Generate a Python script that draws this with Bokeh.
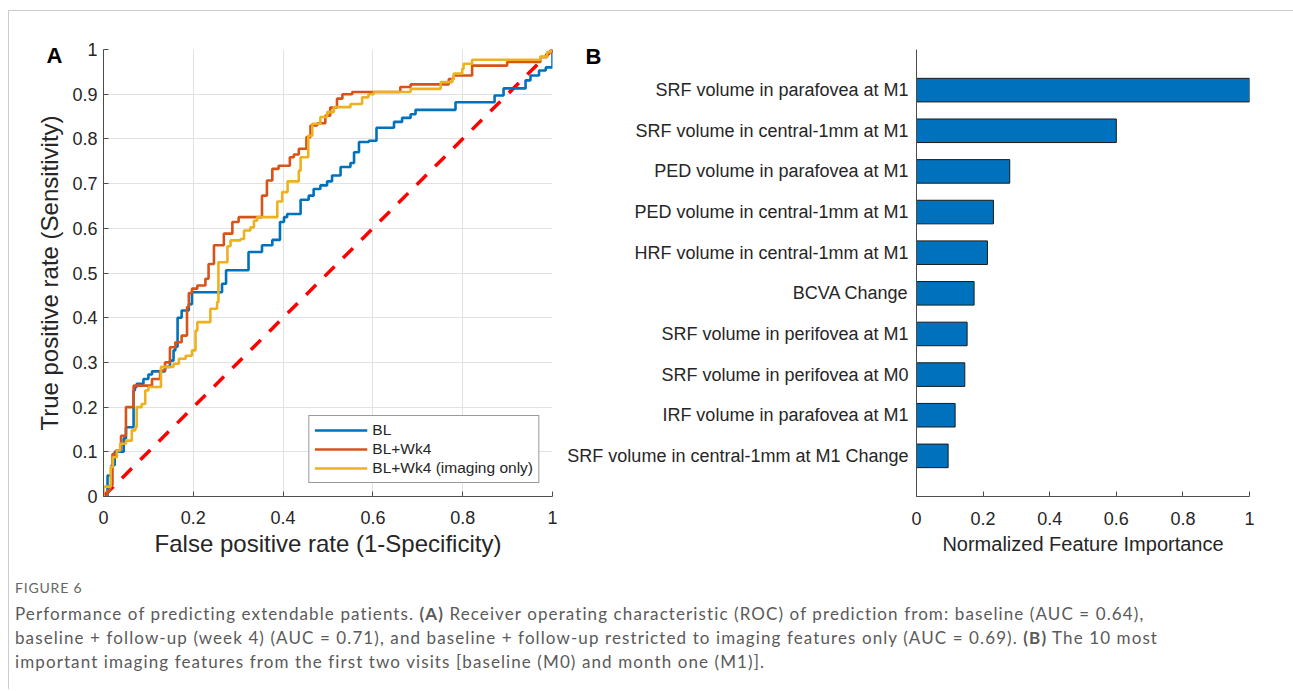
from bokeh.plotting import figure
from bokeh.models import (ColumnDataSource, Legend, LegendItem, Title, FixedTicker,
                          CustomJSTickFormatter, Range1d, FactorRange, Div)
from bokeh.layouts import row, column
from bokeh.embed import file_html
from bokeh.resources import INLINE

# ---------------- data ----------------
# ROC curves (breakpoints: at FPR x the curve rises to TPR y)
bl_fpr = [0, 0.009, 0.018, 0.025, 0.045, 0.05, 0.067, 0.07, 0.074, 0.089, 0.1, 0.108, 0.137, 0.148,
          0.156, 0.16, 0.165, 0.174, 0.19, 0.197, 0.264, 0.273, 0.323, 0.353, 0.376, 0.393, 0.402,
          0.409, 0.439, 0.457, 0.468, 0.483, 0.498, 0.509, 0.528, 0.55, 0.558, 0.569, 0.591, 0.608,
          0.647, 0.665, 0.684, 0.695, 0.784, 0.871, 0.891, 0.94, 0.951, 0.97, 0.985, 1.0]
bl_tpr = [0, 0.047, 0.07, 0.1, 0.13, 0.155, 0.237, 0.245, 0.252, 0.263, 0.273, 0.28, 0.29, 0.304,
          0.327, 0.335, 0.40, 0.416, 0.43, 0.457, 0.476, 0.506, 0.547, 0.562, 0.574, 0.614, 0.625,
          0.632, 0.664, 0.673, 0.688, 0.696, 0.705, 0.718, 0.737, 0.746, 0.77, 0.793, 0.796, 0.825,
          0.838, 0.847, 0.855, 0.865, 0.882, 0.897, 0.913, 0.931, 0.942, 0.953, 0.96, 1.0]

wk_fpr = [0, 0.008, 0.015, 0.02, 0.028, 0.039, 0.05, 0.067, 0.108, 0.126, 0.137, 0.148, 0.16, 0.174,
          0.186, 0.19, 0.197, 0.209, 0.227, 0.234, 0.246, 0.268, 0.287, 0.301, 0.353, 0.364, 0.376,
          0.39, 0.415, 0.424, 0.435, 0.452, 0.461, 0.476, 0.494, 0.505, 0.52, 0.532, 0.554, 0.661,
          0.684, 0.769, 0.78, 0.821, 0.899, 0.973, 0.988, 1.0]
wk_tpr = [0, 0.013, 0.025, 0.095, 0.103, 0.136, 0.2, 0.248, 0.263, 0.282, 0.3, 0.334, 0.345, 0.36,
          0.424, 0.455, 0.465, 0.472, 0.487, 0.52, 0.562, 0.588, 0.614, 0.625, 0.673, 0.707, 0.733,
          0.74, 0.759, 0.765, 0.778, 0.804, 0.83, 0.835, 0.852, 0.87, 0.89, 0.9, 0.905, 0.916,
          0.922, 0.934, 0.942, 0.964, 0.972, 0.983, 0.994, 1.0]

im_fpr = [0, 0.0, 0.016, 0.021, 0.03, 0.037, 0.05, 0.063, 0.071, 0.074, 0.085, 0.093, 0.1, 0.128,
          0.156, 0.168, 0.183, 0.197, 0.205, 0.209, 0.238, 0.253, 0.256, 0.276, 0.283, 0.305, 0.313,
          0.327, 0.335, 0.342, 0.387, 0.398, 0.41, 0.435, 0.439, 0.456, 0.465, 0.483, 0.498, 0.513,
          0.55, 0.576, 0.59, 0.602, 0.684, 0.751, 0.777, 0.78, 0.799, 0.802, 0.821, 0.973, 0.988, 0.996]
im_tpr = [0, 0.022, 0.066, 0.088, 0.103, 0.118, 0.125, 0.148, 0.155, 0.2, 0.207, 0.237, 0.245, 0.29,
          0.297, 0.308, 0.315, 0.327, 0.371, 0.39, 0.42, 0.435, 0.524, 0.56, 0.573, 0.576, 0.595,
          0.602, 0.617, 0.625, 0.66, 0.681, 0.705, 0.729, 0.759, 0.807, 0.834, 0.849, 0.86, 0.871,
          0.878, 0.893, 0.9, 0.905, 0.912, 0.927, 0.934, 0.946, 0.957, 0.968, 0.977, 0.984, 0.994, 1.0]

chance_x = [0, 1]
chance_y = [0, 1]

series_labels = ["BL", "BL+Wk4", "BL+Wk4 (imaging only)"]
roc_ticks_x = [0, 0.2, 0.4, 0.6, 0.8, 1]
roc_ticks_y = [0, 0.1, 0.2, 0.3, 0.4, 0.5, 0.6, 0.7, 0.8, 0.9, 1]

# Feature importance
features = ["SRF volume in parafovea at M1", "SRF volume in central-1mm at M1",
            "PED volume in parafovea at M1", "PED volume in central-1mm at M1",
            "HRF volume in central-1mm at M1", "BCVA Change",
            "SRF volume in perifovea at M1", "SRF volume in perifovea at M0",
            "IRF volume in parafovea at M1", "SRF volume in central-1mm at M1 Change"]
importance = [1.0, 0.6, 0.28, 0.231, 0.213, 0.173, 0.152, 0.145, 0.116, 0.095]
bar_ticks_x = [0, 0.2, 0.4, 0.6, 0.8, 1]

# ---------------- style ----------------
FONT = "Liberation Sans"
TXT = "#262626"
AX = "#4d4d4d"
C_BL, C_WK, C_IM = "#0072BD", "#D95319", "#EDB120"
fmt = CustomJSTickFormatter(code="return String(Math.round(tick*10)/10);")


def style_axis(ax, label_size="24px"):
    ax.axis_line_color = AX
    ax.axis_line_width = 1
    ax.major_tick_line_color = AX
    ax.major_tick_in = 5
    ax.major_tick_out = 0
    ax.minor_tick_line_color = None
    ax.major_label_text_font = FONT
    ax.major_label_text_font_size = "18px"
    ax.major_label_text_color = TXT
    ax.axis_label_text_font = FONT
    ax.axis_label_text_font_size = label_size
    ax.axis_label_text_font_style = "normal"
    ax.axis_label_text_color = TXT


def panel_letter(text, offset, standoff):
    return Title(text=text, align="left", offset=offset, standoff=standoff,
                 text_font=FONT, text_font_size="22px", text_font_style="bold",
                 text_color="black")


# ---------------- panel A ----------------
p1 = figure(width=551, height=560, x_range=Range1d(0, 1), y_range=Range1d(0, 1),
            output_backend="svg", toolbar_location=None,
            title=panel_letter("A", -57, -36),
            min_border_left=94, min_border_right=8, min_border_top=38, min_border_bottom=75)
p1.outline_line_color = None
p1.background_fill_color = "white"
p1.border_fill_color = "white"
p1.xaxis.ticker = FixedTicker(ticks=roc_ticks_x)
p1.yaxis.ticker = FixedTicker(ticks=roc_ticks_y)
p1.xaxis.formatter = fmt
p1.yaxis.formatter = fmt
style_axis(p1.xaxis[0])
style_axis(p1.yaxis[0])
p1.xaxis.axis_label = "False positive rate (1-Specificity)"
p1.yaxis.axis_label = "True positive rate (Sensitivity)"
p1.xaxis.major_label_standoff = 14
p1.yaxis.major_label_standoff = 6
p1.xaxis.axis_label_standoff = 3
p1.yaxis.axis_label_standoff = 6
p1.grid.grid_line_color = "#e2e2e2"
p1.grid.grid_line_width = 1

p1.line(chance_x, chance_y, line_color="#FF0000", line_width=3.5, line_dash="14 12")
r_bl = p1.step(bl_fpr, bl_tpr, mode="after", line_color=C_BL, line_width=2.6)
r_wk = p1.step(wk_fpr, wk_tpr, mode="after", line_color=C_WK, line_width=2.6)
r_im = p1.step(im_fpr, im_tpr, mode="after", line_color=C_IM, line_width=2.6)

legend = Legend(items=[LegendItem(label=series_labels[0], renderers=[r_bl]),
                       LegendItem(label=series_labels[1], renderers=[r_wk]),
                       LegendItem(label=series_labels[2], renderers=[r_im])],
                location="bottom_right")
legend.border_line_color = "#333333"
legend.border_line_width = 1
legend.background_fill_color = "white"
legend.background_fill_alpha = 1
legend.padding = 5
legend.spacing = 1
legend.margin = 13
legend.label_height = 18
legend.glyph_height = 18
legend.glyph_width = 53
legend.label_standoff = 5
legend.label_text_font = FONT
legend.label_text_font_size = "15.5px"
legend.label_text_color = TXT
p1.add_layout(legend)

# ---------------- panel B ----------------
src = ColumnDataSource(dict(feature=features, importance=importance))
p2 = figure(width=728, height=560, x_range=Range1d(0, 1),
            y_range=FactorRange(factors=features[::-1], range_padding=0.5,
                                range_padding_units="absolute"),
            output_backend="svg", toolbar_location=None,
            title=panel_letter("B", -331, -38),
            min_border_left=356, min_border_right=39, min_border_top=32, min_border_bottom=70)
p2.outline_line_color = None
p2.background_fill_color = "white"
p2.border_fill_color = "white"
p2.grid.visible = False
p2.hbar(y="feature", right="importance", left=0, height=0.58, source=src,
        fill_color="#0072BD", line_color="#1a1a1a", line_width=1)
p2.xaxis.ticker = FixedTicker(ticks=bar_ticks_x)
p2.xaxis.formatter = fmt
style_axis(p2.xaxis[0], "20px")
style_axis(p2.yaxis[0])
p2.yaxis.major_tick_in = 0
p2.yaxis.major_tick_out = 0
p2.yaxis.major_label_standoff = 8
p2.xaxis.major_label_standoff = 15
p2.xaxis.axis_label = "Normalized Feature Importance"
p2.xaxis.axis_label_standoff = 5

# ---------------- caption ----------------
caption = (
    '<div style="font-family: Lato, sans-serif; color:#5a5a5a; padding-left:1px;">'
    '<div style="font-size:14px; line-height:20px; margin-top:2px; letter-spacing:0.8px; color:#666;">FIGURE 6</div>'
    '<div style="font-size:17px; line-height:24px; margin-top:4px; white-space:nowrap; letter-spacing:1.1px;">'
    'Performance of predicting extendable patients. <b>(A)</b> Receiver operating characteristic (ROC) '
    'of prediction from: baseline (AUC = 0.64),<br>'
    'baseline + follow-up (week 4) (AUC = 0.71), and baseline + follow-up restricted to imaging features '
    'only (AUC = 0.69). <b>(B)</b> The 10 most<br>'
    'important imaging features from the first two visits [baseline (M0) and month one (M1)].'
    '</div></div>'
)
div = Div(text=caption, width=1279, height=108)

layout = column(row(p1, p2), div, margin=(10, 0, 0, 8),
                styles={"border-top": "1px solid #cccccc", "border-left": "1px solid #cccccc",
                        "border-right": "1px solid #cccccc", "background": "white"})

open("out.html", "w").write(file_html(layout, INLINE))
